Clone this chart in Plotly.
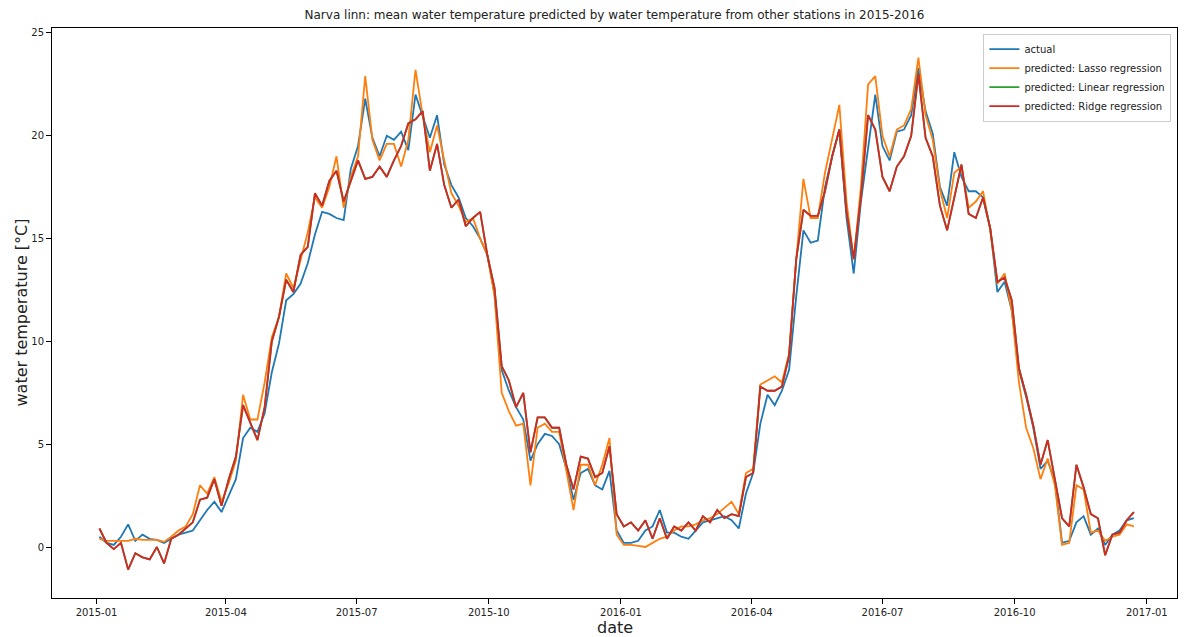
import pandas as pd
import plotly.graph_objects as go

# Water temperature at Narva linn, sampled every 5 days (°C)
start_date = "2015-01-03"
step = "5D"

actual = [
    0.5, 0.2, 0.1, 0.5, 1.1, 0.3, 0.6, 0.4, 0.35, 0.2,
    0.4, 0.6, 0.7, 0.8, 1.3, 1.8, 2.2, 1.7, 2.5, 3.3,
    5.3, 5.8, 5.6, 6.5, 8.5, 9.9, 12.0, 12.3, 12.8, 13.8,
    15.2, 16.3, 16.2, 16.0, 15.9, 18.4, 19.5, 21.8, 19.9, 19.0,
    20.0, 19.8, 20.2, 19.3, 22.0, 21.0, 19.9, 21.0, 18.6, 17.6,
    17.0, 16.0, 15.6, 15.0, 14.2, 12.3, 8.6, 7.6, 6.8, 6.2,
    4.2, 5.0, 5.5, 5.4, 5.0, 3.8, 2.3, 3.6, 3.8, 3.0,
    2.8, 3.7, 0.8, 0.2, 0.2, 0.3, 0.8, 1.0, 1.8, 0.7,
    0.7, 0.5, 0.4, 0.8, 1.2, 1.3, 1.4, 1.5, 1.3, 0.9,
    2.6, 3.6, 6.0, 7.4, 6.9, 7.6, 8.6, 12.2, 15.4, 14.8,
    14.9, 17.5, 19.0, 20.3, 16.0, 13.3, 16.8, 19.5, 22.0, 19.5,
    18.8, 20.2, 20.3, 21.0, 23.3, 21.2, 20.1, 17.5, 16.6, 19.2,
    18.0, 17.3, 17.3, 17.0, 15.5, 12.4, 12.9, 11.5, 8.6, 7.3,
    5.8, 3.8, 4.2, 3.2, 0.2, 0.3, 1.2, 1.5, 0.6, 0.9,
    0.1, 0.6, 0.8, 1.3, 1.4,
]

lasso_pred = [
    0.4, 0.3, 0.3, 0.3, 0.3, 0.4, 0.35, 0.35, 0.35, 0.25,
    0.5, 0.8, 1.0, 1.6, 3.0, 2.6, 3.4, 2.2, 3.1, 4.2,
    7.4, 6.2, 6.2, 8.0, 10.2, 11.2, 13.3, 12.6, 14.0, 15.3,
    17.0, 16.5, 17.5, 19.0, 16.5, 18.0, 19.0, 22.9, 19.8, 18.8,
    19.6, 19.6, 18.5, 19.8, 23.2, 21.0, 19.2, 20.5, 18.8, 17.2,
    16.6, 15.8, 16.0, 15.0, 14.2, 12.2, 7.5, 6.6, 5.9, 6.0,
    3.0, 5.8, 6.0, 5.6, 5.6, 3.6, 1.8, 4.0, 4.0, 3.0,
    4.0, 5.3, 0.6, 0.1, 0.1, 0.05, 0.0, 0.2, 0.4, 0.5,
    0.8, 1.0, 1.0, 1.1, 1.3, 1.4, 1.6, 1.9, 2.2, 1.6,
    3.6, 3.8, 7.9, 8.1, 8.3, 8.0, 9.4, 14.0, 17.9, 16.0,
    16.0, 18.2, 19.8, 21.5, 16.8, 14.0, 17.5, 22.5, 22.9, 20.0,
    19.0, 20.3, 20.5, 21.3, 23.8, 21.0, 19.8, 17.4, 16.0, 18.2,
    18.5, 16.5, 16.8, 17.3, 15.4, 12.8, 13.3, 11.5, 8.0, 5.8,
    4.8, 3.3, 4.3, 3.0, 0.1, 0.2, 3.0, 2.8, 0.7, 0.8,
    0.3, 0.5, 0.6, 1.1, 1.0,
]

ridge_pred = [
    0.9, 0.2, -0.1, 0.2, -1.1, -0.3, -0.5, -0.6, 0.0, -0.8,
    0.4, 0.6, 0.9, 1.2, 2.3, 2.4, 3.3, 2.0, 3.3, 4.4,
    6.9, 6.0, 5.2, 6.8, 10.0, 11.2, 13.0, 12.4, 14.2, 14.6,
    17.2, 16.6, 17.8, 18.3, 16.8, 17.8, 18.8, 17.9, 18.0, 18.5,
    18.0, 18.8, 19.5, 20.6, 20.8, 21.2, 18.3, 19.6, 17.6, 16.5,
    16.9, 15.6, 16.0, 16.3, 14.2, 12.6, 8.8, 8.1, 6.8, 7.5,
    4.6, 6.3, 6.3, 5.8, 5.8, 4.0, 2.8, 4.4, 4.3, 3.4,
    3.6, 4.9, 1.6, 1.0, 1.2, 0.8, 1.3, 0.4, 1.4, 0.4,
    1.0, 0.8, 1.2, 0.8, 1.5, 1.2, 1.8, 1.4, 1.6, 1.5,
    3.4, 3.6, 7.8, 7.6, 7.6, 7.8, 9.3, 14.0, 16.4, 16.1,
    16.1, 17.3, 19.0, 20.3, 16.3, 14.0, 17.0, 21.0, 20.3, 18.0,
    17.3, 18.5, 19.0, 20.0, 23.0, 19.9, 19.0, 16.6, 15.4, 17.0,
    18.6, 16.2, 16.0, 17.0, 15.5, 12.9, 13.1, 12.0, 8.7, 7.4,
    5.9, 4.0, 5.2, 3.3, 1.4, 1.0, 4.0, 2.9, 1.6, 1.4,
    -0.4, 0.6, 0.7, 1.3, 1.7,
]

# Linear regression gives the same predictions as ridge here
linear_pred = list(ridge_pred)

tick_dates = ["2015-01-01", "2015-04-01", "2015-07-01", "2015-10-01",
              "2016-01-01", "2016-04-01", "2016-07-01", "2016-10-01",
              "2017-01-01"]
tick_labels = ["2015-01", "2015-04", "2015-07", "2015-10",
               "2016-01", "2016-04", "2016-07", "2016-10", "2017-01"]

dates = pd.date_range(start_date, periods=len(actual), freq=step)

series = [
    ("actual", actual, "#1f77b4"),
    ("predicted: Lasso regression", lasso_pred, "#ff7f0e"),
    ("predicted: Linear regression", linear_pred, "#2ca02c"),
    ("predicted: Ridge regression", ridge_pred, "#d62728"),
]

fig = go.Figure()
for name, values, color in series:
    fig.add_trace(go.Scatter(
        x=dates, y=values, mode="lines", name=name,
        line=dict(color=color, width=1.8),
    ))

axis_common = dict(
    showgrid=False, zeroline=False, showline=True, linecolor="black",
    linewidth=1, mirror=True, ticks="outside", ticklen=5,
    tickcolor="black", tickfont=dict(size=10, color="#222"),
    automargin=False,
)

fig.update_layout(
    width=1195, height=637,
    margin=dict(l=52, r=18, t=28, b=39),
    paper_bgcolor="white", plot_bgcolor="white",
    font=dict(family="DejaVu Sans", color="#222"),
    title=dict(
        text="Narva linn: mean water temperature predicted by water temperature from other stations in 2015-2016",
        x=0.5, xref="paper", xanchor="center", y=0.977, yanchor="middle",
        font=dict(size=12),
    ),
    xaxis=dict(
        **axis_common,
        range=["2014-12-01", "2017-01-22"],
        tickvals=tick_dates, ticktext=tick_labels,
    ),
    yaxis=dict(
        **axis_common,
        range=[-2.48, 25.24],
        tickvals=[0, 5, 10, 15, 20, 25],
    ),
    legend=dict(
        x=0.995, y=0.99, xanchor="right", yanchor="top",
        bgcolor="white", bordercolor="#ccc", borderwidth=1,
        font=dict(size=10), tracegroupgap=0, itemwidth=30,
    ),
)

# Axis titles
fig.add_annotation(
    text="date", xref="paper", yref="paper", x=0.5, y=-0.051,
    xanchor="center", yanchor="middle", showarrow=False,
    font=dict(size=16, color="#222"),
)
fig.add_annotation(
    text="water temperature [°C]", xref="paper", yref="paper",
    x=-0.028, y=0.5, xanchor="center", yanchor="middle",
    textangle=-90, showarrow=False, font=dict(size=16, color="#222"),
)

fig.write_html("out.html")
